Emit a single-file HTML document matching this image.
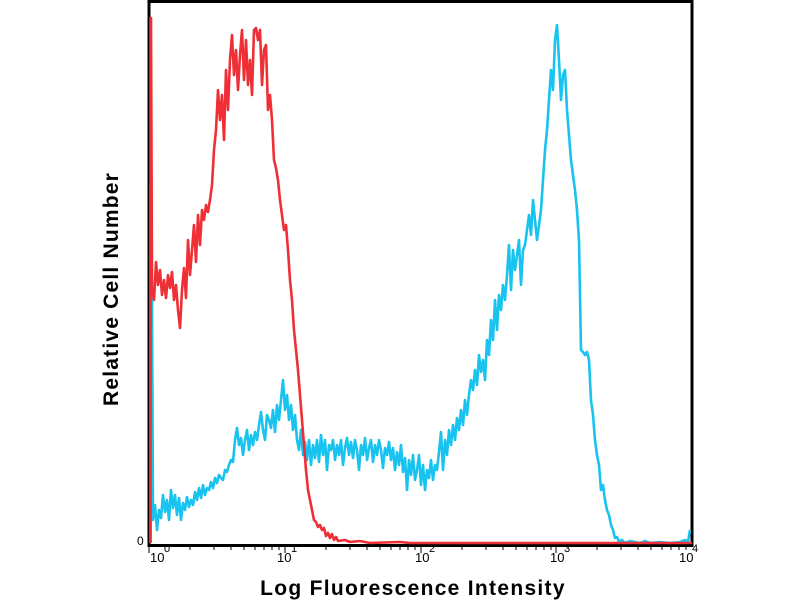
<!DOCTYPE html>
<html><head><style>
body{margin:0;background:#fff;}
svg{display:block;font-family:"Liberation Sans",Arial,sans-serif;}
</style></head><body>
<svg width="800" height="600" viewBox="0 0 800 600">
<rect x="149" y="1.5" width="543" height="544" fill="#fff" stroke="#000" stroke-width="3"/>
<g stroke="#000" stroke-width="1">
<line x1="149" y1="547" x2="149" y2="553"/><line x1="190" y1="547" x2="190" y2="550"/><line x1="214" y1="547" x2="214" y2="550"/><line x1="231" y1="547" x2="231" y2="550"/><line x1="244" y1="547" x2="244" y2="550"/><line x1="255" y1="547" x2="255" y2="550"/><line x1="264" y1="547" x2="264" y2="550"/><line x1="272" y1="547" x2="272" y2="550"/><line x1="279" y1="547" x2="279" y2="550"/>
<line x1="285" y1="547" x2="285" y2="553"/><line x1="326" y1="547" x2="326" y2="550"/><line x1="350" y1="547" x2="350" y2="550"/><line x1="367" y1="547" x2="367" y2="550"/><line x1="380" y1="547" x2="380" y2="550"/><line x1="391" y1="547" x2="391" y2="550"/><line x1="400" y1="547" x2="400" y2="550"/><line x1="408" y1="547" x2="408" y2="550"/><line x1="415" y1="547" x2="415" y2="550"/>
<line x1="421" y1="547" x2="421" y2="553"/><line x1="462" y1="547" x2="462" y2="550"/><line x1="486" y1="547" x2="486" y2="550"/><line x1="503" y1="547" x2="503" y2="550"/><line x1="516" y1="547" x2="516" y2="550"/><line x1="527" y1="547" x2="527" y2="550"/><line x1="536" y1="547" x2="536" y2="550"/><line x1="544" y1="547" x2="544" y2="550"/><line x1="551" y1="547" x2="551" y2="550"/>
<line x1="556" y1="547" x2="556" y2="553"/><line x1="597" y1="547" x2="597" y2="550"/><line x1="621" y1="547" x2="621" y2="550"/><line x1="638" y1="547" x2="638" y2="550"/><line x1="651" y1="547" x2="651" y2="550"/><line x1="662" y1="547" x2="662" y2="550"/><line x1="671" y1="547" x2="671" y2="550"/><line x1="679" y1="547" x2="679" y2="550"/><line x1="686" y1="547" x2="686" y2="550"/>
</g>
<polyline fill="none" stroke="#19c3ef" stroke-width="2.6" stroke-linejoin="round" points="150.5,543 150.5,185 152,300 153,520 155,505 157,530 159,510 161,518 163,495 165,512 167,500 169,520 171,490 173,508 175,495 177,515 179,498 181,520 183,503 185,510 187,497 189,507 191,500 193,505 195,492 197,500 199,488 201,498 203,485 205,495 207,488 209,490 211,482 213,488 215,478 217,483 219,475 221,478 223,480 225,470 227,472 229,465 231,460 233,462 235,440 237,428 239,445 241,438 243,455 245,440 247,430 249,450 251,435 253,445 255,432 257,440 259,425 261,412 263,430 265,440 267,415 269,420 271,428 273,410 275,432 277,405 279,420 281,400 283,380 285,410 287,395 289,420 291,405 293,430 295,415 297,440 299,450 301,430 303,455 305,442 307,460 309,440 311,465 313,445 315,458 317,440 319,462 321,435 323,455 325,440 327,470 329,445 331,450 333,440 335,460 337,445 339,455 341,440 343,465 345,448 347,438 349,455 351,442 353,458 355,440 357,450 359,470 361,445 363,455 365,438 367,460 369,448 371,440 373,462 375,445 377,455 379,440 381,450 383,468 385,448 387,455 389,442 391,460 393,448 395,470 397,452 399,465 401,445 403,472 405,458 407,490 409,460 411,475 413,455 415,480 417,470 419,455 421,485 423,465 425,490 427,470 429,478 431,460 433,480 435,465 437,470 439,452 441,432 443,470 445,440 447,455 449,430 451,445 453,425 455,440 457,418 459,430 461,410 463,425 465,400 467,415 469,395 471,380 473,390 475,370 477,385 479,355 481,372 483,360 485,380 487,340 489,355 491,320 493,340 495,300 497,330 499,295 501,310 503,285 505,300 507,275 509,245 511,290 513,250 515,270 517,255 519,240 521,285 523,250 525,245 527,230 529,215 531,235 533,200 535,220 537,240 539,225 541,210 543,180 545,150 547,130 549,100 551,70 553,90 555,40 557,25 559,60 561,100 563,75 565,70 567,110 569,135 571,160 573,175 575,190 577,210 579,240 581,350 583,352 585,355 587,352 589,360 591,400 593,415 595,440 597,455 599,465 601,490 603,485 605,500 607,510 609,515 611,525 613,530 615,538 617,537 619,542 622,540 625,543 630,541 635,542 640,543 645,541 650,543 660,542 670,543 680,542 685,540 688,542 690,530"/>
<polyline fill="none" stroke="#ee2f35" stroke-width="2.6" stroke-linejoin="round" points="150.5,543 150.5,18 151,18 152,290 154,300 156,262 158,285 160,270 162,295 164,280 166,298 168,275 170,288 172,272 174,300 176,285 178,310 180,328 182,290 184,268 186,298 188,240 190,275 192,250 194,225 196,262 198,215 200,245 202,210 204,220 206,205 208,212 210,200 212,185 214,150 216,130 218,90 220,120 222,95 224,140 226,70 228,110 230,60 232,35 234,75 236,50 238,90 240,55 242,30 244,80 246,40 248,85 250,60 252,95 254,30 256,28 258,40 260,30 262,85 264,50 266,45 268,110 270,95 272,120 274,160 276,168 278,180 280,200 282,215 284,230 286,225 288,250 290,280 292,300 294,330 296,350 298,370 300,395 302,420 304,445 306,470 308,490 310,500 312,510 314,520 316,522 318,527 320,525 322,530 324,528 326,536 328,533 330,538 332,534 334,540 336,537 338,541 345,540 350,542 360,541 370,543 400,542 410,543 692,543"/>
<text x="137" y="545" font-size="12">0</text>
<g font-size="13" fill="#000">
<text x="150" y="562">10</text><text x="164" y="552" font-size="11">0</text>
<text x="277" y="562">10</text><text x="291" y="552" font-size="11">1</text>
<text x="415" y="562">10</text><text x="429" y="552" font-size="11">2</text>
<text x="550" y="562">10</text><text x="564" y="552" font-size="11">3</text>
<text x="679" y="562">10</text><text x="692" y="552" font-size="11">4</text>
</g>
<text x="413" y="595" font-size="21" font-weight="bold" letter-spacing="1.3" text-anchor="middle">Log Fluorescence Intensity</text>
<text transform="translate(118,289) rotate(-90)" font-size="21" font-weight="bold" letter-spacing="1.2" text-anchor="middle">Relative Cell Number</text>
</svg>
</body></html>
